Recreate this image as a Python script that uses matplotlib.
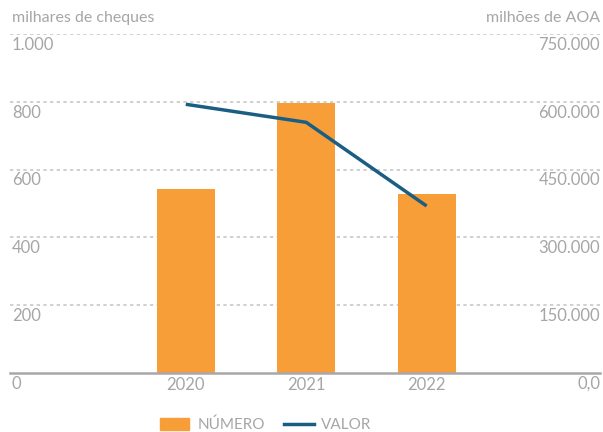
import matplotlib
matplotlib.use("Agg")
import matplotlib.pyplot as plt
import matplotlib.transforms as mtransforms
from matplotlib.lines import Line2D
from matplotlib.patches import Patch

years = ["2020", "2021", "2022"]
numero = [543, 797, 528]            # milhares de cheques
valor = [594500, 554600, 369500]    # milhões de AOA
left_ticks = [0, 200, 400, 600, 800, 1000]
left_labels = ["0", "200", "400", "600", "800", "1.000"]
right_ticks = [0, 150000, 300000, 450000, 600000, 750000]
right_labels = ["0,0", "150.000", "300.000", "450.000", "600.000", "750.000"]

plt.rcParams['font.family'] = ['Lato', 'DejaVu Sans']
grey = "#a6a6a6"
orange = "#F79E38"
blue = "#1B5E84"
fs = 12

fig = plt.figure(figsize=(6.03, 4.32), dpi=100)
ax = fig.add_axes([10/603, 1-373/432, 590/603, (373-34)/432])
x = list(range(len(years)))
ax.bar(x, numero, width=0.48, color=orange, zorder=2)
ax.set_xlim(-1.46, 3.44)
ax.set_ylim(0, 1000)
ax.set_xticks(x)
ax.set_xticklabels(years)
ax.tick_params(axis='x', length=0, labelcolor=grey, labelsize=fs, pad=3)
ax.set_yticks([])
for s in ["top", "left", "right"]:
    ax.spines[s].set_visible(False)
ax.spines["bottom"].set_color("#a8a8a8")
ax.spines["bottom"].set_linewidth(1.8)
ax.spines["bottom"].set_zorder(4)
for t in left_ticks[1:]:
    ax.axhline(t, color="#c8c8c8", lw=1.2, ls=(0, (2, 2)), zorder=1)

trans = mtransforms.blended_transform_factory(ax.transAxes, ax.transData)
off = mtransforms.ScaledTranslation(0, -2/72, fig.dpi_scale_trans)
for t, lab in zip(left_ticks, left_labels):
    ax.text(0.003, t, lab, transform=trans + off, ha='left', va='top',
            color=grey, fontsize=fs)

ax2 = ax.twinx()
ax2.plot(x, valor, color=blue, lw=2.5, zorder=3, solid_capstyle='butt')
ax2.set_ylim(0, 750000)
ax2.set_yticks([])
for s in ["top", "left", "right", "bottom"]:
    ax2.spines[s].set_visible(False)
trans2 = mtransforms.blended_transform_factory(ax2.transAxes, ax2.transData)
for t, lab in zip(right_ticks, right_labels):
    ax2.text(1.0, t, lab, transform=trans2 + off, ha='right', va='top',
             color=grey, fontsize=fs)

fig.text(12/603, 1-18/432, "milhares de cheques", ha='left', va='center',
         color=grey, fontsize=11.5)
fig.text(600/603, 1-18/432, "milhões de AOA", ha='right', va='center',
         color=grey, fontsize=11.5)

handles = [Patch(color=orange), Line2D([0], [0], color=blue, lw=2.5)]
fig.legend(handles, ["NÚMERO", "VALOR"], loc='center', bbox_to_anchor=(266/603, 1-425/432),
           ncol=2, frameon=False, labelcolor=grey,
           handlelength=1.9, handleheight=0.75, columnspacing=1.3, handletextpad=0.5,
           prop={'size': 11})

fig.savefig("out.png", dpi=100)
